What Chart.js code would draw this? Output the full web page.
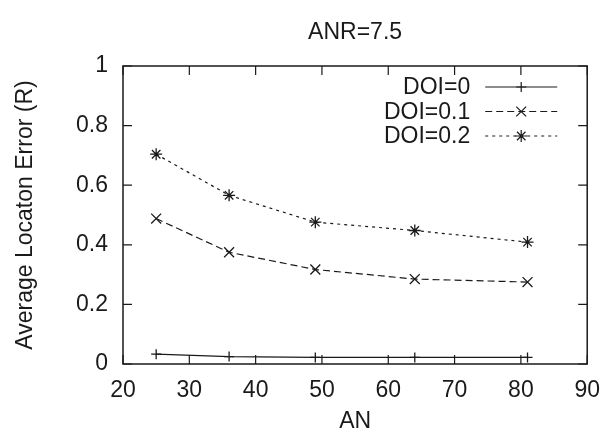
<!DOCTYPE html>
<html>
<head>
<meta charset="utf-8">
<script src="https://cdn.jsdelivr.net/npm/chart.js@4"></script>
<style>
  html, body { margin: 0; padding: 0; background: #fff; }
  #wrap { width: 613px; height: 435px; }
</style>
</head>
<body>
<div id="wrap"><canvas id="chart" width="613" height="435"></canvas></div>
<script>
// values
const anValues = [25, 36, 49, 64, 81];
const doi0 = [0.033, 0.025, 0.022, 0.022, 0.022];
const doi01 = [0.488, 0.375, 0.317, 0.285, 0.275];
const doi02 = [0.704, 0.566, 0.476, 0.448, 0.409];
const seriesLabels = ['DOI=0', 'DOI=0.1', 'DOI=0.2'];
const xTicks = [20, 30, 40, 50, 60, 70, 80, 90];
const yTicks = [0, 0.2, 0.4, 0.6, 0.8, 1];
const chartTitle = 'ANR=7.5';

const ink = '#1a1a1a';
const fontFamily = '"Liberation Sans", Arial, sans-serif';
const fontSize = 23;

function toPoints(vals) {
   return anValues.map((x, i) => ({ x: x, y: vals[i] }));
}

// title centred over the plot area, not the canvas
const plotTitle = {
   id: 'plotTitle',
   afterDraw(chart) {
      const ctx = chart.ctx;
      const a = chart.chartArea;
      ctx.save();
      ctx.font = fontSize + 'px ' + fontFamily;
      ctx.fillStyle = ink;
      ctx.textAlign = 'center';
      ctx.textBaseline = 'alphabetic';
      ctx.fillText(chartTitle, (a.left + a.right) / 2, 39);
      ctx.restore();
   }
};

// frame + inward ticks on all four sides (gnuplot look)
const frameTicks = {
   id: 'frameTicks',
   afterDatasetsDraw(chart) {
      const ctx = chart.ctx;
      const a = chart.chartArea;
      const xs = chart.scales.x, ys = chart.scales.y;
      const len = 9;
      ctx.save();
      ctx.strokeStyle = ink;
      ctx.lineWidth = 1.5;
      ctx.strokeRect(a.left, a.top, a.right - a.left, a.bottom - a.top);
      ctx.lineWidth = 1.2;
      ctx.beginPath();
      xTicks.forEach(v => {
         const px = xs.getPixelForValue(v);
         ctx.moveTo(px, a.bottom); ctx.lineTo(px, a.bottom - len);
         ctx.moveTo(px, a.top); ctx.lineTo(px, a.top + len);
      });
      yTicks.forEach(v => {
         const py = ys.getPixelForValue(v);
         ctx.moveTo(a.left, py); ctx.lineTo(a.left + len, py);
         ctx.moveTo(a.right, py); ctx.lineTo(a.right - len, py);
      });
      ctx.stroke();
      ctx.restore();
   }
};

// legend inside the plot, text on the left of the sample
const insideLegend = {
   id: 'insideLegend',
   afterDraw(chart) {
      const ctx = chart.ctx;
      const a = chart.chartArea;
      const textRight = a.right - 117;
      const lineFrom = a.right - 102, lineTo = a.right - 30;
      ctx.save();
      ctx.font = fontSize + 'px ' + fontFamily;
      ctx.textAlign = 'right';
      ctx.textBaseline = 'middle';
      chart.data.datasets.forEach((ds, i) => {
         const y = a.top + 21 + i * 24.5;
         ctx.fillStyle = ink;
         ctx.fillText(ds.label, textRight, y + 1);
         ctx.strokeStyle = ink;
         ctx.lineWidth = 1.2;
         ctx.setLineDash(ds.borderDash || []);
         ctx.beginPath();
         ctx.moveTo(lineFrom, y); ctx.lineTo(lineTo, y);
         ctx.stroke();
         ctx.setLineDash([]);
         Chart.helpers.drawPoint(ctx, {
            pointStyle: ds.pointStyle, radius: ds.pointRadius, borderWidth: 1.3
         }, (lineFrom + lineTo) / 2, y);
      });
      ctx.restore();
   }
};

const common = {
   borderColor: ink,
   pointBorderColor: ink,
   backgroundColor: 'transparent',
   borderWidth: 1.2,
   pointBorderWidth: 1.3,
   fill: false,
   tension: 0
};

new Chart(document.getElementById('chart'), {
   type: 'line',
   data: {
      datasets: [
         Object.assign({}, common, {
            label: seriesLabels[0], data: toPoints(doi0),
            pointStyle: 'cross', pointRadius: 5
         }),
         Object.assign({}, common, {
            label: seriesLabels[1], data: toPoints(doi01),
            borderDash: [7, 4], pointStyle: 'crossRot', pointRadius: 7
         }),
         Object.assign({}, common, {
            label: seriesLabels[2], data: toPoints(doi02),
            borderDash: [3, 4], pointStyle: 'star', pointRadius: 6
         })
      ]
   },
   options: {
      responsive: false,
      animation: false,
      layout: { padding: { left: 0, right: 18, top: 66, bottom: 0 } },
      scales: {
         x: {
            type: 'linear',
            min: 20, max: 90,
            afterBuildTicks: s => { s.ticks = xTicks.map(v => ({ value: v })); },
            afterFit: s => { s.height = 71; },
            grid: { display: false, drawTicks: false },
            border: { display: false },
            ticks: { color: ink, padding: 13, font: { size: fontSize, family: fontFamily } },
            title: {
               display: true, text: 'AN', color: ink,
               padding: { top: 0, bottom: 0 },
               font: { size: fontSize, family: fontFamily }
            }
         },
         y: {
            min: 0, max: 1,
            afterBuildTicks: s => { s.ticks = yTicks.map(v => ({ value: v })); },
            afterFit: s => { s.width = 123; },
            grid: { display: false, drawTicks: false },
            border: { display: false },
            ticks: {
               color: ink, padding: 15,
               font: { size: fontSize, family: fontFamily },
               callback: v => String(v)
            },
            title: {
               display: true, text: 'Average Locaton Error (R)', color: ink,
               padding: { top: 12, bottom: 0 },
               font: { size: fontSize, family: fontFamily }
            }
         }
      },
      plugins: {
         legend: { display: false },
         tooltip: { enabled: false },
         title: { display: false }
      }
   },
   plugins: [frameTicks, insideLegend, plotTitle]
});
</script>
</body>
</html>
